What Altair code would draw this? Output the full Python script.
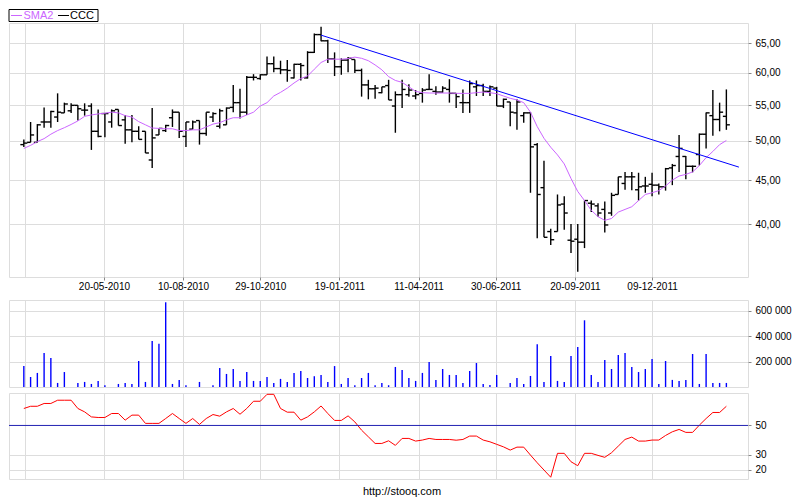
import altair as alt
import pandas as pd

# ---------------- data ----------------
dates = pd.date_range("2010-02-26", periods=105, freq="7D").strftime("%Y-%m-%d").tolist()

opens = [49.5,49.8,49.8,52.6,52.6,53.3,53.9,54.2,55.0,54.3, 54.9,51.3,53.8,52.6,54.4,52.9,51.5,51.3,51.3,47.5,
         50.8,51.4,53.2,54.0,50.6,51.6,52.8,51.0,53.3,52.0, 52.2,54.7,55.4,54.0,59.3,59.1,59.7,61.5,60.7,60.5,
         59.2,61.4,59.2,63.4,66.5,65.4,62.3,61.0,62.1,62.2, 60.4,58.1,57.5,56.9,58.0,54.9,56.6,56.6,56.4,56.8,
         57.4,57.1,57.0,57.4,56.8,55.4,55.4,57.8,58.0,57.1, 57.6,54.9,55.5,53.9,53.5,53.9,49.5,44.1,39.2,39.2,
         42.2,38.3,38.4,38.1,42.3,42.0,41.6,41.2,43.3,44.6, 45.4,43.85,44.3,44.5,44.4,44.2,46.5,47.95,47.95,46.7,
         48.2,50.9,53.5,52.95,53.4]
highs = [50.2,52.6,52.3,54.7,54.2,56.8,55.4,55.3,55.0,55.3, 55.3,54.4,53.9,54.4,54.4,53.6,53.6,52.0,51.3,54.6,
         51.7,52.2,54.4,54.0,52.6,52.8,52.8,54.0,54.0,54.5, 54.7,58.1,57.5,59.5,59.8,59.8,62.7,62.7,62.0,62.1,
         61.5,61.6,63.6,66.7,67.9,65.6,63.4,62.4,62.6,62.2, 60.7,58.9,58.1,57.8,58.9,57.1,58.9,58.2,57.3,57.6,
         59.8,57.9,57.9,59.0,56.8,57.4,58.8,58.8,58.3,58.0, 57.8,56.0,55.5,55.9,54.0,54.0,49.7,47.4,39.5,43.3,
         43.1,40.0,40.0,42.6,42.6,42.3,42.5,43.5,45.4,46.0, 46.0,45.9,45.4,45.9,44.6,46.5,47.0,50.8,48.0,46.8,
         51.0,53.95,57.3,55.4,57.4]
lows = [49.2,49.8,49.8,51.8,51.8,52.6,53.9,53.9,52.8,53.5, 48.8,50.5,50.5,51.8,52.1,49.6,49.8,50.2,48.4,46.5,
        50.8,51.2,51.9,50.4,49.2,51.6,49.5,50.7,52.6,51.7, 52.2,54.0,53.1,53.6,58.8,58.9,59.7,60.1,59.8,58.6,
        59.1,58.8,59.1,63.3,65.3,61.6,59.5,59.7,60.1,60.0, 56.3,55.9,56.0,56.8,55.8,51.1,54.6,56.3,55.9,55.4,
        57.4,56.6,56.9,55.4,54.6,53.9,53.9,56.4,56.4,56.4, 54.9,54.6,52.0,51.5,52.5,43.5,38.5,38.6,37.8,39.2,
        39.4,37.0,35.2,37.5,41.3,40.8,39.1,40.9,43.3,43.85, 43.8,42.6,43.5,43.1,43.3,43.75,44.4,46.0,45.1,45.95,
        46.8,49.0,50.7,51.3,51.5]
closes = [49.7,50.8,52.2,52.6,54.1,54.0,55.2,55.0,54.5,54.3, 51.3,50.6,53.8,54.2,52.1,51.5,51.3,50.2,48.4,50.4,
          51.7,52.1,54.0,51.3,52.6,52.6,51.0,54.0,53.8,54.2, 54.6,55.4,54.0,59.3,59.3,59.7,61.5,60.7,60.5,60.4,
          61.4,61.2,63.4,66.5,65.4,62.3,61.0,62.1,62.4,60.4, 58.1,57.5,57.6,57.8,55.8,56.6,57.4,57.3,56.6,57.3,
          57.4,57.0,57.6,56.8,56.3,55.4,58.3,58.0,57.1,57.8, 54.9,55.9,54.0,55.5,53.9,49.2,43.3,38.6,38.35,42.1,
          41.2,38.2,38.1,42.6,42.2,41.2,39.9,43.2,45.4,45.4, 45.4,44.2,44.3,44.4,44.2,46.4,46.8,49.0,46.7,46.7,
          50.9,53.9,52.95,54.0,52.2]
sma2 = [49.0,49.4,49.9,50.3,50.9,51.4,51.8,52.25,52.75,53.4, 53.6,53.75,53.85,54.0,53.9,53.5,53.3,52.65,52.2,51.75,
        51.7,51.65,51.65,51.4,51.4,51.5,51.5,51.9,52.3,52.5, 52.9,53.2,53.2,53.6,54.0,54.9,55.4,56.4,56.95,57.6,
        58.4,59.1,59.5,60.6,61.7,62.25,62.25,62.25,62.35,62.6, 62.4,62.0,61.3,60.5,59.4,58.8,58.5,57.8,57.1,56.9,
        56.85,56.85,56.85,56.85,56.8,56.8,56.8,56.9,57.0,56.9, 56.75,56.4,56.05,55.8,55.4,54.0,51.95,50.35,49.15,48.15,
        47.0,45.2,43.65,42.6,41.5,40.8,40.4,40.6,41.3,41.6, 41.9,42.6,43.3,43.5,43.75,44.3,45.0,45.5,45.7,46.0,
        46.8,47.8,48.6,49.5,50.05]
volume = [165000,79000,111000,268000,228000,32000,118000,0,32000,40000, 24000,48000,14000,0,24000,32000,24000,205000,40000,362000,
          341000,668000,24000,56000,14000,0,40000,0,14000,150000, 103000,142000,48000,118000,48000,48000,79000,32000,64000,40000,
          111000,126000,71000,85000,95000,40000,165000,24000,71000,14000, 71000,111000,14000,32000,14000,158000,134000,71000,48000,111000,
          197000,56000,142000,95000,95000,32000,126000,189000,24000,16000, 95000,0,32000,71000,24000,87000,338000,40000,244000,48000,
          40000,244000,315000,526000,95000,40000,213000,142000,252000,268000, 158000,118000,142000,220000,24000,205000,56000,48000,56000,260000,
          24000,260000,32000,32000,32000]
osc = [61.5,63.0,63.0,64.9,64.9,67.1,67.1,67.1,61.5,59.2, 55.8,55.4,55.4,58.1,58.1,53.6,57.0,57.0,51.4,51.4,
       51.4,54.7,58.1,54.7,51.4,54.7,50.7,54.7,57.4,56.3, 59.2,61.5,57.6,61.5,66.4,66.4,71.1,71.1,61.5,59.0,
       59.0,53.6,55.8,59.2,63.2,58.1,53.4,53.4,56.5,52.4, 46.8,42.3,37.8,37.8,39.6,36.5,41.2,41.2,39.4,40.1,
       41.2,40.5,40.5,40.5,40.0,40.5,42.8,42.8,40.1,38.9, 37.2,35.5,33.3,35.3,35.3,29.9,24.7,19.8,14.9,31.1,
       31.1,25.4,22.7,31.1,31.1,29.7,28.4,31.5,36.0,40.5, 42.1,39.4,39.4,40.1,40.1,43.2,45.7,47.3,45.3,45.3,
       50.2,54.7,58.8,58.8,63.0]

trend_dates = ["2010-12-31", "2012-03-08"]
trend_vals = [66.4, 46.6]

grid_dates = ["2010-02-27", "2010-05-20", "2010-08-10", "2010-10-29", "2011-01-19",
              "2011-04-11", "2011-06-30", "2011-09-20", "2011-12-09"]
price_ticks = [40, 45, 50, 55, 60, 65]
vol_ticks = [200000, 400000, 600000]
osc_ticks = [20, 30, 50]
osc_level = 50

# ---------------- helpers ----------------
def dt(s, hours=0):
    y, m, d = (int(v) for v in s.split("-"))
    return alt.DateTime(year=y, month=m, date=d, hours=hours, utc=True)

FONT = "Liberation Sans"
W = 739
H_MAIN, H_VOL, H_OSC = 254, 87, 86
SMA_COLOR = "#cc66ff"
FIRST = "(utcyear(datum.value) == 2010 && utcmonth(datum.value) == 1)"

xscale = alt.Scale(type="utc", domain=[dt("2010-02-10", 15), dt("2012-03-17", 10)])
gvals = [dt(s) for s in grid_dates]

x_main = alt.X("date:T", scale=xscale, title=None,
               axis=alt.Axis(values=gvals, grid=True, tickSize=3, labelPadding=1,
                             tickOpacity={"condition": {"test": FIRST, "value": 0}, "value": 1},
                             labelExpr=FIRST + " ? '' : utcFormat(datum.value, '%d-%m-%Y')",
                             labelFlush=False, labelOverlap=False, domain=False))
x_grid = alt.X("date:T", scale=xscale, title=None,
               axis=alt.Axis(values=gvals, grid=True, labels=False, ticks=False, domain=False))

df = pd.DataFrame({"date": dates, "open": opens, "high": highs, "low": lows,
                   "close": closes, "sma": sma2, "volume": volume, "osc": osc})
trend = pd.DataFrame({"date": trend_dates, "price": trend_vals})
one = pd.DataFrame({"k": [0]})

pscale = alt.Scale(type="log", domain=[34.7, 68.6], nice=False, zero=False)
paxis = alt.Axis(orient="right", values=price_ticks, grid=True, tickSize=3, labelPadding=4,
                 labelExpr="replace(format(datum.value, '.2f'), '.', ',')", domain=False)

base = alt.Chart(df)
hl = base.mark_rule(color="black", strokeWidth=1.4).encode(
    x=x_main, y=alt.Y("low:Q", scale=pscale, axis=paxis, title=None), y2="high:Q")
op = base.mark_rule(color="black", strokeWidth=1.4, x2Offset=-3.5).encode(
    x=x_main, x2="date:T", y=alt.Y("open:Q", scale=pscale, axis=paxis, title=None))
cl = base.mark_rule(color="black", strokeWidth=1.4, x2Offset=3.5).encode(
    x=x_main, x2="date:T", y=alt.Y("close:Q", scale=pscale, axis=paxis, title=None))
sma_line = base.mark_line(color=SMA_COLOR, strokeWidth=1).encode(
    x=x_main, y=alt.Y("sma:Q", scale=pscale, axis=paxis, title=None))
trend_line = alt.Chart(trend).mark_line(color="#0000ff", strokeWidth=1).encode(
    x=x_main, y=alt.Y("price:Q", scale=pscale, axis=paxis, title=None))

leg_box = alt.Chart(one).mark_rect(fill="white", stroke="black", strokeWidth=1).encode(
    x=alt.value(0), x2=alt.value(89), y=alt.value(-13.5), y2=alt.value(-1.5))
leg_l1 = alt.Chart(one).mark_rule(color=SMA_COLOR, strokeWidth=1).encode(
    x=alt.value(2), x2=alt.value(13), y=alt.value(-7.5))
leg_t1 = alt.Chart(one).mark_text(text="SMA2", color=SMA_COLOR, font=FONT, fontSize=11,
                                  align="left", baseline="middle").encode(
    x=alt.value(14.5), y=alt.value(-7))
leg_l2 = alt.Chart(one).mark_rule(color="black", strokeWidth=1).encode(
    x=alt.value(49), x2=alt.value(60), y=alt.value(-7.5))
leg_t2 = alt.Chart(one).mark_text(text="CCC", color="black", font=FONT, fontSize=11,
                                  align="left", baseline="middle").encode(
    x=alt.value(61), y=alt.value(-7))

main = alt.layer(hl, op, cl, sma_line, trend_line, leg_box, leg_l1, leg_t1, leg_l2, leg_t2
                 ).properties(width=W, height=H_MAIN)

vol = base.mark_rule(color="#0000ff", strokeWidth=1.4).encode(
    x=x_grid,
    y=alt.Y("volume:Q", title=None, scale=alt.Scale(domain=[0, 686000], nice=False),
            axis=alt.Axis(orient="right", values=vol_ticks, grid=True, tickSize=3, labelPadding=4,
                          labelExpr="replace(format(datum.value, ','), ',', ' ')", domain=False)),
    y2=alt.datum(0)
).properties(width=W, height=H_VOL)

oscale = alt.Scale(domain=[13.7, 72], nice=False, zero=False)
oaxis = alt.Axis(orient="right", values=osc_ticks, grid=True, tickSize=3, labelPadding=4, domain=False)
osc_line = base.mark_line(color="#ff0000", strokeWidth=1).encode(
    x=x_grid, y=alt.Y("osc:Q", scale=oscale, axis=oaxis, title=None))
osc_rule = alt.Chart(one).mark_rule(color="#2424b4", strokeWidth=1).encode(
    y=alt.datum(osc_level, scale=oscale))
src = alt.Chart(one).mark_text(text="http://stooq.com", font=FONT, fontSize=11, color="black",
                               baseline="middle", align="center").encode(
    x=alt.value(393), y=alt.value(H_OSC + 13))
ind = alt.layer(osc_line, osc_rule, src).properties(width=W, height=H_OSC)

lower = alt.vconcat(vol, ind, spacing=2).resolve_scale(x="independent", y="independent")
chart = alt.vconcat(main, lower, spacing=7).resolve_scale(
    x="independent", y="independent"
).properties(padding=0).configure_view(
    stroke="black", strokeWidth=1
).configure_axis(
    labelFont=FONT, labelFontSize=11, labelColor="black", gridColor="#dcdcdc",
    gridWidth=1, tickColor="black", domain=False
).configure(background="white")

chart.save("out.html", embed_options={"renderer": "svg", "actions": False})
